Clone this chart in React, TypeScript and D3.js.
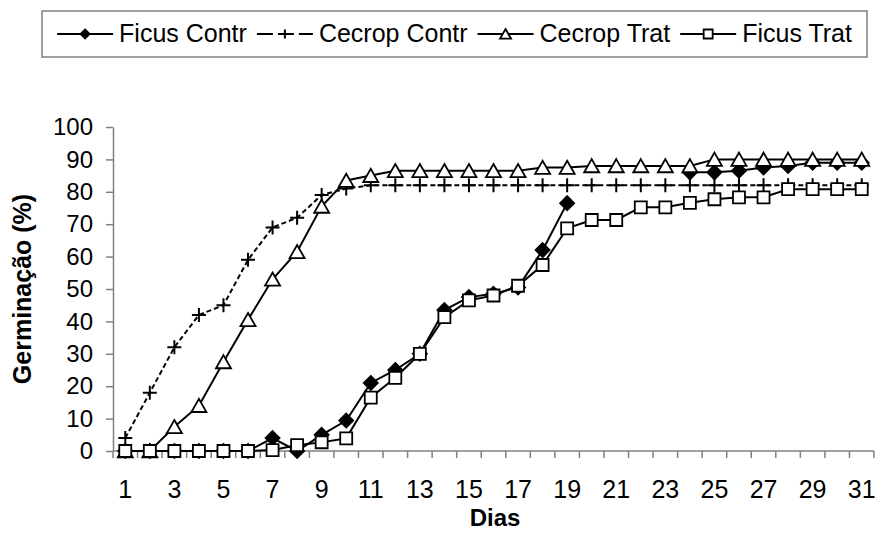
import React, { useEffect, useRef } from 'react';
import * as d3 from 'd3';

// Dias 1..31
const days = [1, 2, 3, 4, 5, 6, 7, 8, 9, 10, 11, 12, 13, 14, 15, 16, 17, 18, 19, 20, 21, 22, 23, 24, 25, 26, 27, 28, 29, 30, 31];
const xTickLabels = [1, 3, 5, 7, 9, 11, 13, 15, 17, 19, 21, 23, 25, 27, 29, 31];
const yTickLabels = [0, 10, 20, 30, 40, 50, 60, 70, 80, 90, 100];

// germinação (%) por dia; null = ponto não desenhado
const ficusContr = [0, 0, 0, 0, 0, 0, 4, 0, 5, 9.4, 21, 25, 30, 43.5, 47.5, 48.5, 50.5, 62, 76.5, null, null, null, null, 86, 86, 86.5, 87.5, 88, 89, 89, 89];
const cecropContr = [4, 18, 32, 42, 45, 59, 69, 72, 79, 81, 82, 82, 82, 82, 82, 82, 82, 82, 82, 82, 82, 82, 82, 82, 82, 82, 82, 82, 82, 82, 82];
const cecropTrat = [0, 0, 7.5, 14, 27.5, 40.5, 53, 61.5, 75.5, 83.5, 85, 86.5, 86.5, 86.5, 86.5, 86.5, 86.5, 87.5, 87.5, 88, 88, 88, 88, 88, 90, 90, 90, 90, 90, 90, 90];
const ficusTrat = [0, 0, 0, 0, 0, 0, 0.3, 1.8, 2.7, 3.9, 16.5, 22.6, 30, 41.3, 46.5, 48, 51, 57.4, 68.7, 71.3, 71.3, 75.2, 75.2, 76.6, 77.7, 78.3, 78.3, 80.8, 80.8, 80.8, 80.8];

const seriesNames = ['Ficus Contr', 'Cecrop Contr', 'Cecrop Trat', 'Ficus Trat'];
const seriesValues = [ficusContr, cecropContr, cecropTrat, ficusTrat];
const seriesMarkers = ['diamond', 'plus', 'triangle', 'square'];
const seriesDash = [null, '5,3', null, null];

const FONT = 'Arial, "Liberation Sans", sans-serif';
const AXIS = '#808080';

// marker path centred on 0,0
function markerPath(kind: string, s: number) {
  const h = s / 2;
  if (kind === 'diamond') return `M0,${-h}L${h},0L0,${h}L${-h},0Z`;
  if (kind === 'square') return `M${-h},${-h}H${h}V${h}H${-h}Z`;
  if (kind === 'triangle') return `M0,${-h * 0.9}L${h},${h * 0.85}L${-h},${h * 0.85}Z`;
  return `M${-h},0H${h}M0,${-h}V${h}`;
}

function drawMarker(g: any, kind: string, x: number, y: number, s: number) {
  g.append('path')
    .attr('d', markerPath(kind, s))
    .attr('transform', `translate(${x},${y})`)
    .attr('fill', kind === 'diamond' ? '#000' : '#fff')
    .attr('stroke', '#000')
    .attr('stroke-width', kind === 'plus' ? 2 : 1.8);
}

export default function App() {
  const svgRef = useRef<SVGSVGElement>(null);
  const width = 876;
  const height = 533;

  useEffect(() => {
    if (!svgRef.current) return;
    const svg = d3.select(svgRef.current);
    svg.selectAll('*').remove();

    const x = d3.scaleBand<number>().domain(days).range([113, 874]).paddingInner(0).paddingOuter(0);
    const cx = (d: number) => (x(d) as number) + x.bandwidth() / 2;
    const y = d3.scaleLinear().domain([0, 100]).range([451, 127]);

    // Y axis
    const yAxis = svg.append('g')
      .attr('transform', 'translate(113,0)')
      .call(d3.axisLeft(y).tickValues(yTickLabels).tickSize(7).tickPadding(13).tickSizeOuter(0));
    yAxis.select('.domain').attr('stroke', AXIS).attr('stroke-width', 1.5);
    yAxis.selectAll('.tick line').attr('stroke', AXIS).attr('stroke-width', 1.5);
    yAxis.selectAll('.tick text')
      .attr('font-family', FONT)
      .attr('font-size', 24)
      .attr('fill', '#000');

    // X axis line and boundary ticks
    const xg = svg.append('g');
    xg.append('line')
      .attr('x1', 113).attr('x2', 874)
      .attr('y1', y(0)).attr('y2', y(0))
      .attr('stroke', AXIS).attr('stroke-width', 1.5);
    const bounds = days.map((d) => x(d) as number).concat([874]);
    xg.selectAll('line.tk')
      .data(bounds)
      .enter()
      .append('line')
      .attr('class', 'tk')
      .attr('x1', (d) => d).attr('x2', (d) => d)
      .attr('y1', y(0)).attr('y2', y(0) + 7)
      .attr('stroke', AXIS).attr('stroke-width', 1.5);
    xg.selectAll('text')
      .data(xTickLabels)
      .enter()
      .append('text')
      .attr('x', (d) => cx(d))
      .attr('y', 498)
      .attr('text-anchor', 'middle')
      .attr('font-family', FONT)
      .attr('font-size', 25)
      .text((d) => String(d));

    // axis titles
    svg.append('text')
      .attr('transform', 'translate(31,289) rotate(-90)')
      .attr('text-anchor', 'middle')
      .attr('font-family', FONT)
      .attr('font-size', 25)
      .attr('font-weight', 'bold')
      .text('Germinação (%)');
    svg.append('text')
      .attr('x', 495)
      .attr('y', 526)
      .attr('text-anchor', 'middle')
      .attr('font-family', FONT)
      .attr('font-size', 24)
      .attr('font-weight', 'bold')
      .text('Dias');

    // series
    const line = d3.line<number | null>()
      .defined((d) => d !== null)
      .x((_, i) => cx(days[i]))
      .y((d) => y(d as number));

    seriesValues.forEach((vals, si) => {
      const g = svg.append('g');
      g.append('path')
        .attr('d', line(vals))
        .attr('fill', 'none')
        .attr('stroke', '#000')
        .attr('stroke-width', 2)
        .attr('stroke-dasharray', seriesDash[si]);
      const size = seriesMarkers[si] === 'triangle' ? 15 : seriesMarkers[si] === 'square' ? 12 : 14;
      vals.forEach((v, i) => {
        if (v === null) return;
        drawMarker(g, seriesMarkers[si], cx(days[i]), y(v), size);
      });
    });

    // legend
    const leg = svg.append('g');
    leg.append('rect')
      .attr('x', 42).attr('y', 11)
      .attr('width', 825).attr('height', 46)
      .attr('fill', '#fff')
      .attr('stroke', AXIS).attr('stroke-width', 1.5);
    const sample = 56;
    const texts = seriesNames.map((name) =>
      leg.append('text')
        .attr('y', 42)
        .attr('font-family', FONT)
        .attr('font-size', 25)
        .text(name)
    );
    const widths = texts.map((t) => (t.node() as SVGTextElement).getComputedTextLength());
    const total = d3.sum(widths) + seriesNames.length * (sample + 6) + (seriesNames.length - 1) * 10;
    let lx = 42 + (825 - total) / 2;
    seriesNames.forEach((_, si) => {
      leg.append('line')
        .attr('x1', lx).attr('x2', lx + sample)
        .attr('y1', 34).attr('y2', 34)
        .attr('stroke', '#000').attr('stroke-width', 2)
        .attr('stroke-dasharray', seriesDash[si] ? '16,5' : null);
      const ms = seriesMarkers[si] === 'triangle' ? 11 : 9;
      drawMarker(leg, seriesMarkers[si], lx + sample / 2, 34, ms);
      texts[si].attr('x', lx + sample + 6);
      lx += sample + 6 + widths[si] + 10;
    });
  }, []);

  return (
    <svg
      ref={svgRef}
      width={width}
      height={height}
      style={{ position: 'absolute', left: 0, top: 0, background: '#fff' }}
    />
  );
}
